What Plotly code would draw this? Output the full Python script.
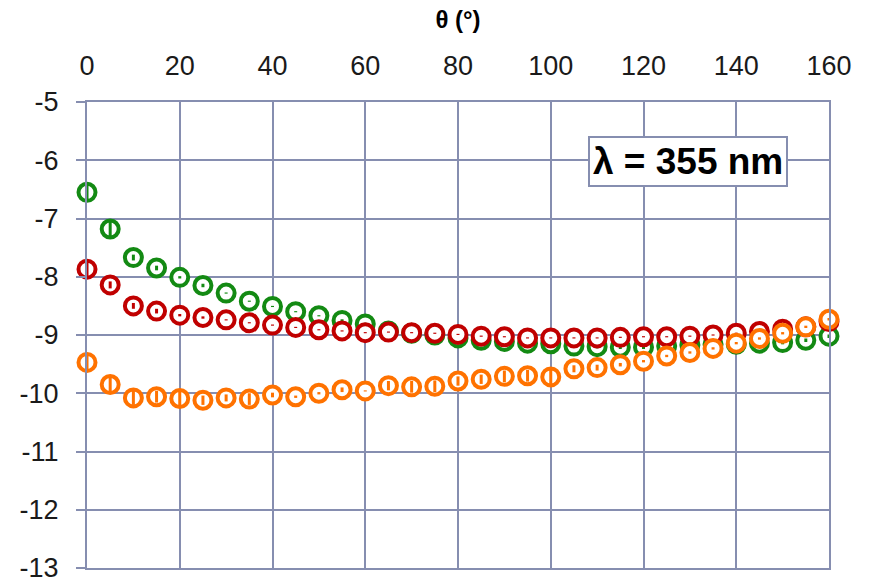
import plotly.graph_objects as go

# Scattering angle grid (degrees)
theta = list(range(0, 165, 5))

# Three measured series and their uncertainties
green_vals = [-6.55, -7.18, -7.67, -7.85, -8.01, -8.15, -8.28, -8.42, -8.51, -8.60, -8.67,
              -8.75, -8.81, -8.93, -8.97, -9.00, -9.05, -9.09, -9.11, -9.14, -9.15, -9.19,
              -9.20, -9.21, -9.21, -9.19, -9.17, -9.16, -9.16, -9.14, -9.13, -9.09, -9.02]
green_err = [0.13, 0.13, 0.05, 0.04, 0.02, 0.03, 0.01, 0.01, 0.01, 0.01, 0.01,
             0.02, 0.02, 0.03, 0.03, 0.03, 0.03, 0.03, 0.03, 0.03, 0.03, 0.03,
             0.03, 0.03, 0.03, 0.03, 0.03, 0.03, 0.03, 0.03, 0.03, 0.03, 0.03]

red_vals = [-7.87, -8.14, -8.50, -8.59, -8.66, -8.70, -8.74, -8.79, -8.83, -8.87, -8.91,
            -8.93, -8.96, -8.95, -8.96, -8.97, -8.99, -9.02, -9.03, -9.05, -9.05, -9.05,
            -9.05, -9.04, -9.03, -9.03, -9.02, -9.00, -8.97, -8.94, -8.90, -8.86, -8.77]
red_err = [0.12, 0.06, 0.05, 0.04, 0.02, 0.02, 0.01, 0.01, 0.01, 0.01, 0.01,
           0.01, 0.01, 0.01, 0.01, 0.01, 0.01, 0.01, 0.01, 0.01, 0.01, 0.01,
           0.01, 0.01, 0.01, 0.01, 0.01, 0.01, 0.01, 0.01, 0.01, 0.01, 0.02]

orange_vals = [-9.47, -9.85, -10.08, -10.06, -10.09, -10.12, -10.08, -10.10, -10.03, -10.06, -10.00,
               -9.94, -9.96, -9.87, -9.89, -9.88, -9.79, -9.76, -9.71, -9.70, -9.72, -9.58,
               -9.56, -9.51, -9.45, -9.36, -9.30, -9.23, -9.14, -9.06, -8.97, -8.86, -8.73]
orange_err = [0.12, 0.12, 0.12, 0.10, 0.12, 0.08, 0.06, 0.10, 0.04, 0.02, 0.02,
              0.04, 0.01, 0.08, 0.10, 0.10, 0.08, 0.08, 0.10, 0.10, 0.12, 0.06,
              0.05, 0.03, 0.02, 0.02, 0.02, 0.02, 0.02, 0.02, 0.02, 0.02, 0.02]

# Axis ticks
x_ticks = [0, 20, 40, 60, 80, 100, 120, 140, 160]
y_ticks = [-5, -6, -7, -8, -9, -10, -11, -12, -13]
y_tick_text = ["-5", "-6", "-7", "-8", "-9", "-10", "-11", "-12", "-13"]

series = [
    (green_vals, green_err, "#138A13"),
    (red_vals, red_err, "#C00000"),
    (orange_vals, orange_err, "#FF7200"),
]

grid_color = "#868EB0"
tick_font = dict(family="'Liberation Sans Narrow', sans-serif", size=27, color="#1a1a1a")

fig = go.Figure()
for vals, err, color in series:
    # hollow rings with white interior
    fig.add_trace(go.Scatter(
        x=theta, y=vals, mode="markers", showlegend=False, hoverinfo="skip",
        cliponaxis=False,
        marker=dict(symbol="circle", size=17, color="white",
                    line=dict(color=color, width=4)),
    ))
    # error bars drawn over the rings
    fig.add_trace(go.Scatter(
        x=theta, y=vals, mode="markers", showlegend=False,
        cliponaxis=False,
        marker=dict(size=1, opacity=0),
        error_y=dict(type="data", array=err, visible=True,
                     color=color, thickness=3, width=0),
    ))

fig.add_annotation(
    x=129.5, y=-6.02, xref="x", yref="y",
    text="<b>λ = 355 nm</b>", showarrow=False,
    font=dict(family="Liberation Sans, Arial, sans-serif", size=37, color="black"),
    bgcolor="white", bordercolor=grid_color, borderwidth=2, borderpad=3,
)

fig.update_layout(
    width=871, height=577,
    margin=dict(l=87, r=42, t=102, b=9),
    paper_bgcolor="white", plot_bgcolor="white",
    xaxis=dict(
        side="top", range=[0, 160], tickvals=x_ticks, automargin=False,
        showgrid=True, gridcolor=grid_color, gridwidth=2,
        showline=True, linecolor=grid_color, linewidth=2, mirror=True,
        zeroline=False, ticks="", tickfont=tick_font, ticklabelstandoff=14,
        ticklabeloverflow="allow",
        title=dict(text="<b>θ (°)</b>", standoff=16,
                   font=dict(family="Liberation Sans, Arial, sans-serif", size=24, color="black")),
    ),
    yaxis=dict(
        range=[-13, -5], tickvals=y_ticks, ticktext=y_tick_text, automargin=False,
        showgrid=True, gridcolor=grid_color, gridwidth=2,
        showline=True, linecolor=grid_color, linewidth=2, mirror=True,
        zeroline=False, ticks="outside", ticklen=9, tickwidth=2, tickcolor=grid_color,
        tickfont=tick_font, ticklabelstandoff=12, ticklabeloverflow="allow",
    ),
)

fig.write_html("out.html")
